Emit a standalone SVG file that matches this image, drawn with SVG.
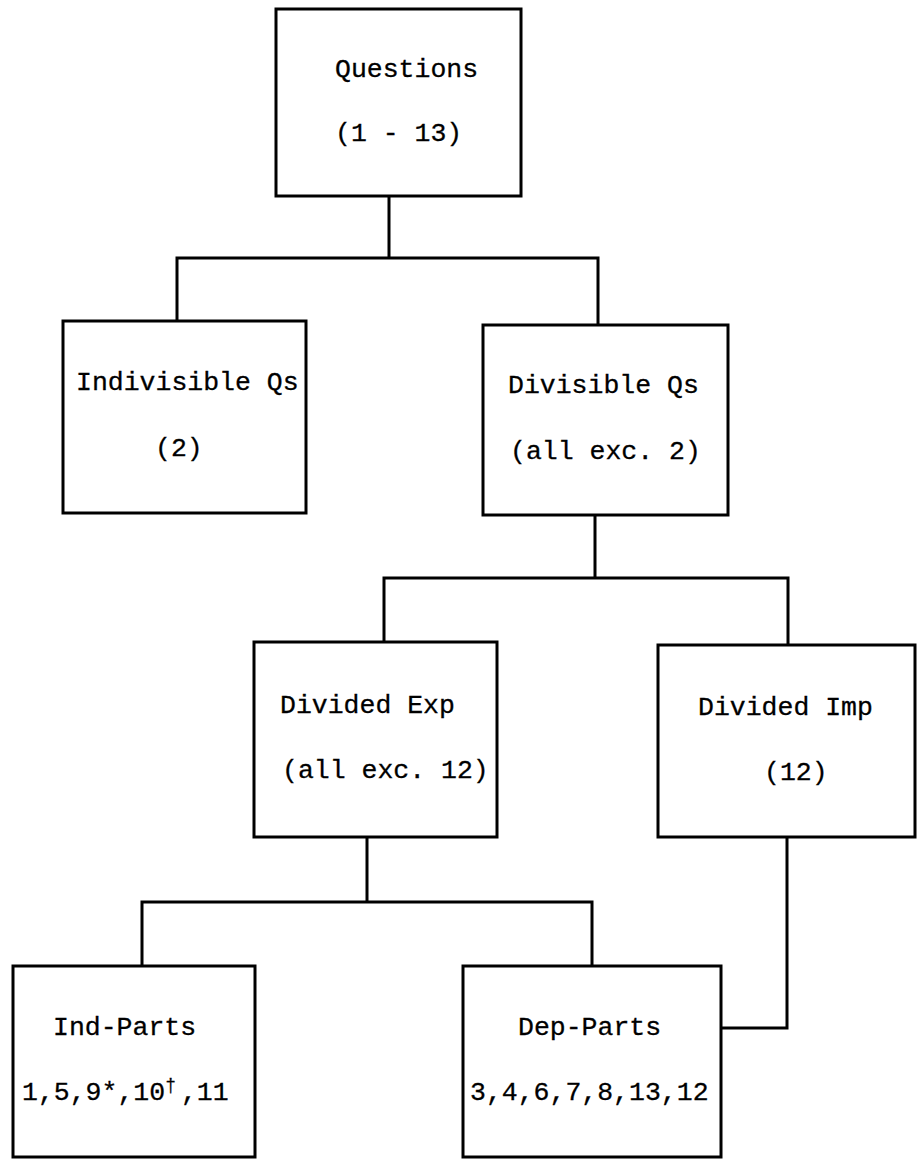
<svg xmlns="http://www.w3.org/2000/svg" width="920" height="1159" viewBox="0 0 920 1159">
  <style>
    .box { fill: #fff; stroke: #000; stroke-width: 3; }
    .wire { fill: none; stroke: #000; stroke-width: 3; stroke-linejoin: miter; }
    .lbl { font-family: "Liberation Mono", "Courier New", "DejaVu Sans Mono", monospace; font-size: 26.5px; fill: #000; stroke: #000; stroke-width: 0.3; }
    .sup { font-size: 18px; }
  </style>
  <rect width="920" height="1159" fill="#fff"/>

  <!-- tree connectors -->
  <g id="connectors">
    <path class="wire" d="M389 196 V258 M177 321 V258 H598 V325"/>
    <path class="wire" d="M595 515 V578 M384 642 V578 H788 V645"/>
    <path class="wire" d="M367 837 V902 M142 966 V902 H592 V966"/>
    <path class="wire" d="M787 837 V1028 H721"/>
  </g>

  <g id="questions">
    <rect class="box" x="276" y="9" width="245" height="187"/>
    <text class="lbl" x="335" y="77">Questions</text>
    <text class="lbl" x="335" y="141">(1 - 13)</text>
  </g>

  <g id="indivisible">
    <rect class="box" x="63" y="321" width="243" height="192"/>
    <text class="lbl" x="76" y="390">Indivisible Qs</text>
    <text class="lbl" x="155" y="456">(2)</text>
  </g>

  <g id="divisible">
    <rect class="box" x="483" y="325" width="245" height="190"/>
    <text class="lbl" x="508" y="393">Divisible Qs</text>
    <text class="lbl" x="510" y="459">(all exc. 2)</text>
  </g>

  <g id="divided-exp">
    <rect class="box" x="254" y="642" width="243" height="195"/>
    <text class="lbl" x="280" y="713">Divided Exp</text>
    <text class="lbl" x="282" y="778">(all exc. 12)</text>
  </g>

  <g id="divided-imp">
    <rect class="box" x="658" y="645" width="257" height="192"/>
    <text class="lbl" x="698" y="715">Divided Imp</text>
    <text class="lbl" x="764" y="780">(12)</text>
  </g>

  <g id="ind-parts">
    <rect class="box" x="13" y="966" width="242" height="191"/>
    <text class="lbl" x="53" y="1035">Ind-Parts</text>
    <text class="lbl" x="22" y="1100">1,5,9*,10<tspan class="sup" dy="-9">†</tspan><tspan dx="5" dy="9">,11</tspan></text>
  </g>

  <g id="dep-parts">
    <rect class="box" x="463" y="966" width="258" height="191"/>
    <text class="lbl" x="518" y="1035">Dep-Parts</text>
    <text class="lbl" x="470" y="1100">3,4,6,7,8,13,12</text>
  </g>
</svg>
